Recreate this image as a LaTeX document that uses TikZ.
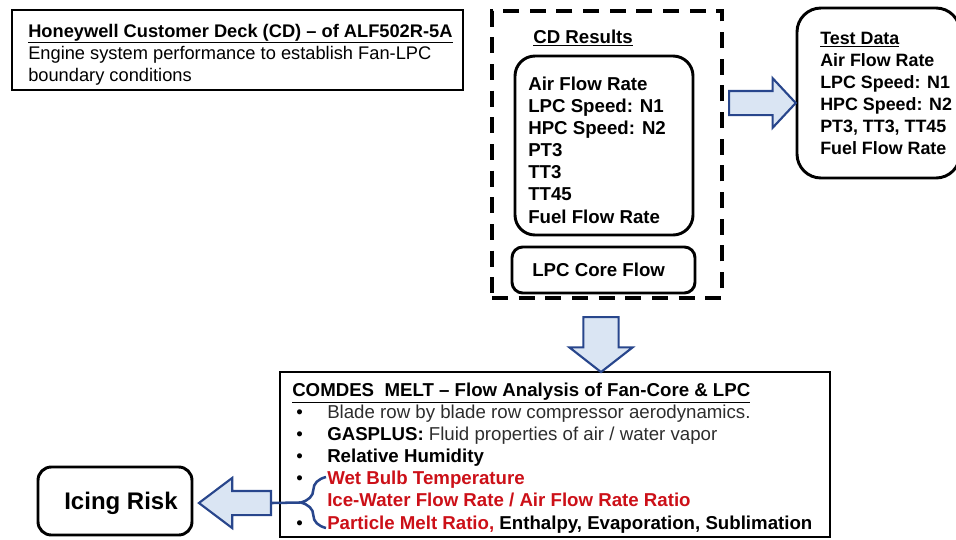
\documentclass[tikz,border=0pt]{standalone}
\usepackage{fontspec}
\setmainfont{Liberation Sans}
\usetikzlibrary{fit, shapes.arrows, decorations.pathreplacing}

\definecolor{arrowblue}{RGB}{40,70,140}
\definecolor{arrowfill}{RGB}{218,229,243}
\definecolor{alertred}{RGB}{204,16,24}
\definecolor{bodygray}{RGB}{45,45,45}

\newcommand{\itembul}{\makebox[26.25pt][l]{\hspace{3pt}\textmd{•}}}
\newcommand{\itemgap}{\makebox[26.25pt]{}}

\tikzset{
  box/.style={draw, line width=2.2pt, inner sep=0pt},
  roundbox/.style={box, rounded corners=#1},
  txt/.style={anchor=north west, inner sep=0pt, align=left,
              font=\fontsize{14}{16.6}\selectfont\bfseries},
  blockarrow/.style={single arrow, draw=arrowblue, fill=arrowfill,
                     line width=1.6pt, inner xsep=0pt, anchor=tail},
}

\begin{document}
\begin{tikzpicture}[x=0.75pt, y=-0.75pt]
\useasboundingbox (0,0) rectangle (956,539);
\clip (0,0) rectangle (956,539);

\begin{scope}[every node/.style={box}]
    \node (deck) [fit={(12,10) (463,90)}] {};
    \node (cdframe) [fit={(492,11) (722,298)}, line width=3pt,
                     dash pattern=on 12pt off 8pt] {};
    \node (cdbox) [roundbox=15pt, fit={(515,56) (693,235)}] {};
    \node (corebox) [roundbox=8pt, fit={(512,247) (695,293)}] {};
    \node (testbox) [roundbox=18pt, fit={(797,8) (960,178)}] {};
    \node (comdes) [fit={(280,372) (830,537)}] {};
    \node (riskbox) [roundbox=10pt, fit={(38,467) (192,535)}] {};
\end{scope}

% texts
\node (decktext) [txt, font=\fontsize{13.7}{16.6}\selectfont\bfseries] at (28,23.5)
    {\underline{Honeywell Customer Deck (CD) – of ALF502R-5A}\\
    \textmd{Engine system performance to establish Fan-LPC}\\
    \textmd{boundary conditions}};
\node (cdtitle) [txt] at (533,29.5) {\underline{CD Results}};
\node (cditems) [txt] at (528,76.5) {Air Flow Rate\\LPC Speed: N1\\HPC Speed: N2\\PT3\\TT3\\TT45\\Fuel Flow Rate};
\node (coretext) [txt, anchor=west] at (532,270) {LPC Core Flow};
\node (testtext) [txt, font=\fontsize{13.4}{16.6}\selectfont\bfseries] at (820,31.5)
    {\underline{Test Data}\\Air Flow Rate\\LPC Speed: N1\\HPC Speed: N2\\PT3, TT3, TT45\\Fuel Flow Rate};
\node (comdestext) [txt] at (292,382.5) {\underline{COMDES\ \ MELT – Flow Analysis of Fan-Core \& LPC}\\
    \itembul\textmd{\color{bodygray}Blade row by blade row compressor aerodynamics.}\\
    \itembul GASPLUS:\ \textmd{\color{bodygray}Fluid properties of air / water vapor}\\
    \itembul Relative Humidity\\
    \itembul\textcolor{alertred}{Wet Bulb Temperature}\\
    \itemgap\textcolor{alertred}{Ice-Water Flow Rate / Air Flow Rate Ratio}\\
    \itembul\textcolor{alertred}{Particle Melt Ratio,} Enthalpy, Evaporation, Sublimation};
\node (risktext) [txt, anchor=center, font=\fontsize{18}{20}\selectfont\bfseries] at (121,503) {Icing Risk};

% block arrows
\node (cdarrow) [blockarrow, minimum height=50pt, inner ysep=8.25pt,
                 single arrow head extend=9.5pt, single arrow tip angle=94] at (728,103) {};
\node (downarrow) [blockarrow, rotate=-90, minimum height=41.25pt, inner ysep=12.4pt,
                   single arrow head extend=10.5pt, single arrow tip angle=104] at (601,316) {};
\node (riskarrow) [blockarrow, rotate=180, minimum height=54pt, inner ysep=8.25pt,
                   single arrow head extend=9.75pt, single arrow tip angle=74] at (272,503) {};

% brace
\coordinate (bracetip) at (300,502.5);
\draw [arrowblue, line width=1.9pt, decorate, decoration={brace, amplitude=19pt}]
    (326,528) -- (326,477);
\draw [arrowblue, line width=1.9pt] (bracetip) -- (riskarrow.tail);
\end{tikzpicture}
\end{document}
